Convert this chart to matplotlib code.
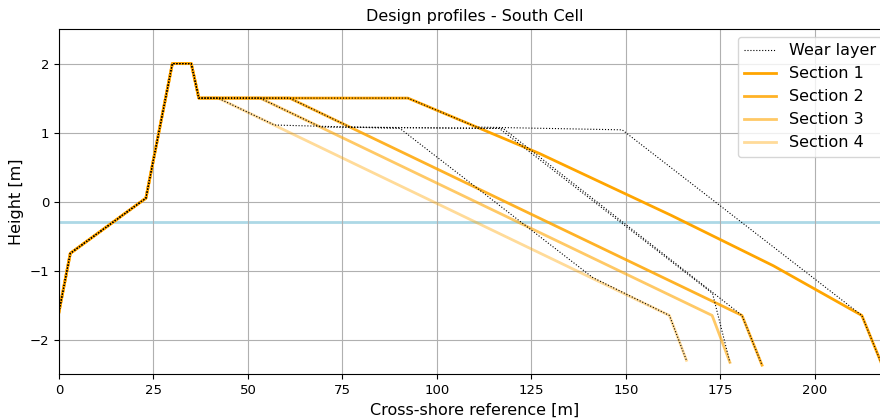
import matplotlib
matplotlib.use("Agg")
import matplotlib.pyplot as plt

# shared landward part of every profile (toe, crest, berm start)
common_x = [0, 3, 23, 30, 35, 37]
common_y = [-1.6, -0.75, 0.05, 2.0, 2.0, 1.5]

# seaward part of each design section
sec1_x = [92.3, 127.0, 162.0, 189.0, 212.4, 218.0]
sec1_y = [1.5, 0.70, -0.20, -0.93, -1.65, -2.40]
sec2_x = [61.0, 180.7, 186.0]
sec2_y = [1.5, -1.65, -2.37]
sec3_x = [53.2, 172.8, 177.5]
sec3_y = [1.5, -1.65, -2.33]
sec4_x = [42.1, 161.5, 166.0]
sec4_y = [1.5, -1.65, -2.30]

# wear layer outline belonging to each section
wear1_x = [92.3, 110.5, 149.0, 212.4, 218.0]
wear1_y = [1.5, 1.08, 1.04, -1.65, -2.40]
wear2_x = [61.0, 77.0, 117.5, 180.7, 186.0]
wear2_y = [1.5, 1.08, 1.06, -1.65, -2.37]
wear3_x = [53.2, 69.2, 116.5, 172.9, 177.5]
wear3_y = [1.5, 1.08, 1.06, -1.33, -2.33]
wear4_x = [42.1, 57.0, 90.2, 141.2, 161.5, 166.0]
wear4_y = [1.5, 1.11, 1.06, -1.10, -1.65, -2.30]

water_level = -0.3

sections = [(sec1_x, sec1_y), (sec2_x, sec2_y), (sec3_x, sec3_y), (sec4_x, sec4_y)]
wears = [(wear1_x, wear1_y), (wear2_x, wear2_y), (wear3_x, wear3_y), (wear4_x, wear4_y)]
labels = ["Section 1", "Section 2", "Section 3", "Section 4"]
alphas = [1.0, 0.85, 0.6, 0.4]

fig = plt.figure(figsize=(8.8, 4.18), dpi=100)
ax = fig.add_axes([0.067, 0.105, 0.945, 0.8254])

for i, (wx, wy) in enumerate(wears):
    ax.plot(common_x + wx, common_y + wy, ":", color="black", lw=0.8,
            zorder=3, label="Wear layer" if i == 0 else None)

for (sx, sy), lab, a in zip(sections, labels, alphas):
    ax.plot(common_x + sx, common_y + sy, color="orange", alpha=a, lw=2,
            zorder=2, label=lab)

ax.axhline(water_level, color="lightblue", lw=2, zorder=1.5)

ax.set_xlim(0, 220)
ax.set_ylim(-2.5, 2.5)
ax.set_xticks([0, 25, 50, 75, 100, 125, 150, 175, 200])
ax.set_yticks([-2, -1, 0, 1, 2])
ax.tick_params(labelsize=9.5)
ax.grid(True)
ax.set_title("Design profiles - South Cell", fontsize=11.5)
ax.set_xlabel("Cross-shore reference [m]", fontsize=11.5)
ax.set_ylabel("Height [m]", fontsize=11.5)
ax.legend(loc="upper right", fontsize=11.5)

fig.savefig("out.png", dpi=100)
